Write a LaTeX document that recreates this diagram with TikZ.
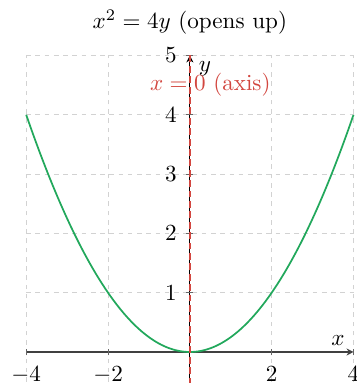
\documentclass[tikz,border=0pt]{standalone}
\usetikzlibrary{arrows.meta}
\definecolor{curvegreen}{RGB}{34,168,92}
\definecolor{axisred}{RGB}{210,70,63}
\tikzset{
  gridline/.style={gray!35, line width=0.4pt, dash pattern=on 2pt off 2pt},
  axisline/.style={black!75, line width=0.5pt, -{Stealth[length=3pt,width=3pt]}},
  tickmark/.style={black!60, line width=0.4pt},
  ticklabel/.style={inner sep=0pt, font=\normalsize},
  symline/.style={axisred, line width=0.8pt, dash pattern=on 3pt off 1.5pt},
  curve/.style={curvegreen, line width=0.75pt}
}
\begin{document}
\begin{tikzpicture}[x=17.71pt, y=25.67pt]
\useasboundingbox (-4.641,-0.523) rectangle (4.064,5.936);
% grid
\foreach \gx in {-4,-2,2,4} \draw[gridline] (\gx,-0.5) -- (\gx,5);
\foreach \gy in {1,2,3,4,5} \draw[gridline] (-4,\gy) -- (4,\gy);
% axes
\coordinate (xs) at (-4,0);
\coordinate (xe) at (4,0);
\coordinate (ys) at (0,-0.5);
\coordinate (ye) at (0,5);
\draw[axisline] (xs) -- (xe);
\draw[axisline, black] (ys) -- (ye);
% ticks and labels
\foreach \tx in {-4,-2,2,4} {
  \draw[tickmark] (\tx,0) ++(0,-1.5pt) -- ++(0,3pt);
  \node[ticklabel, anchor=north] (tx\tx) at ([yshift=-6.3pt]\tx,0) {$\tx$};
}
\foreach \ty in {1,2,3,4,5} {
  \draw[tickmark] (0,\ty) ++(-1.5pt,0) -- ++(3pt,0);
  \node[ticklabel, anchor=east] (ty\ty) at ([xshift=-5.5pt]0,\ty) {$\ty$};
}
\node (xlab) at (3.62,0.19) {$x$};
\node (ylab) at (0.37,4.77) {$y$};
% parabola
\draw[curve, domain=-4:4, samples=120, smooth] plot (\x, {\x*\x/4});
% axis of symmetry
\coordinate (ra) at (0,-0.55);
\coordinate (rb) at (0,5);
\draw[symline] (ra) -- (rb);
\node[text=axisred] (symlab) at (0.5,4.5) {$x=0$ (axis)};
% title
\node (title) at (0,5.565) {$x^2=4y$ (opens up)};
\end{tikzpicture}
\end{document}
